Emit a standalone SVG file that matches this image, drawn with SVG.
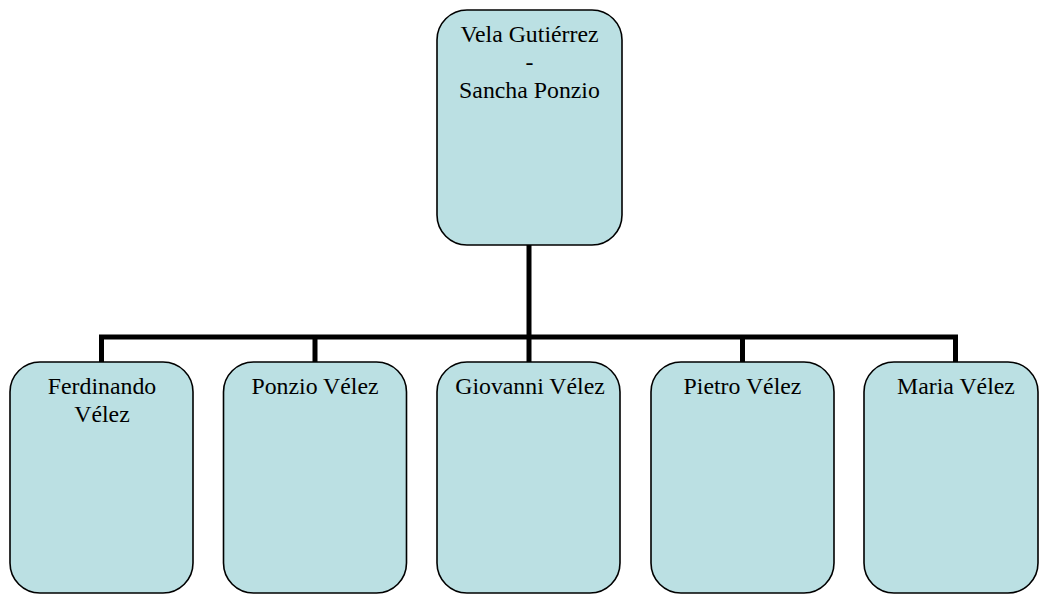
<svg xmlns="http://www.w3.org/2000/svg" width="1040" height="595" viewBox="0 0 1040 595">
<style>
.box{fill:#bbe0e3;stroke:#000;stroke-width:1.6}
.t{font-family:"Liberation Serif","Times New Roman",serif;font-size:23.8px;fill:#000;text-anchor:middle}
.c{fill:none;stroke:#000;stroke-width:5}
</style>
<rect width="1040" height="595" fill="#fff"/>
<g id="connectors">
<path class="c" d="M529,245 V362"/>
<path class="c" d="M101.5,362 V337 H955.5 V362"/>
<path class="c" d="M315,337 V362 M742.5,337 V362"/>
</g>
<g id="root">
<rect class="box" x="437" y="10" width="185" height="235" rx="30"/>
<text class="t" x="529.5" y="42">Vela Gutiérrez</text>
<text class="t" x="529.5" y="70">-</text>
<text class="t" x="529.5" y="98">Sancha Ponzio</text>
</g>
<g id="ferdinando">
<rect class="box" x="10" y="362" width="183" height="231" rx="30"/>
<text class="t" x="102" y="394">Ferdinando</text>
<text class="t" x="102" y="422">Vélez</text>
</g>
<g id="ponzio">
<rect class="box" x="223.5" y="362" width="183" height="231" rx="30"/>
<text class="t" x="315" y="394">Ponzio Vélez</text>
</g>
<g id="giovanni">
<rect class="box" x="437" y="362" width="183" height="231" rx="30"/>
<text class="t" x="530" y="394">Giovanni Vélez</text>
</g>
<g id="pietro">
<rect class="box" x="651" y="362" width="183" height="231" rx="30"/>
<text class="t" x="742.5" y="394">Pietro Vélez</text>
</g>
<g id="maria">
<rect class="box" x="864" y="362" width="174" height="231" rx="30"/>
<text class="t" x="956" y="394">Maria Vélez</text>
</g>
</svg>
